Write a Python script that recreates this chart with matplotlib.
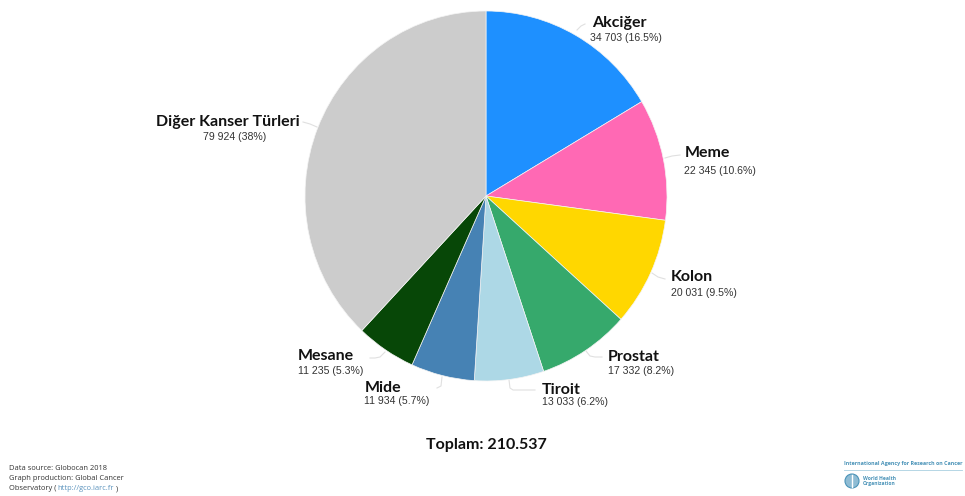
import matplotlib
matplotlib.use("Agg")
import matplotlib.pyplot as plt
from matplotlib.patches import Circle

W = 965
H = 496

kanser = ["Akciğer", "Meme", "Kolon", "Prostat", "Tiroit", "Mide", "Mesane", "Diğer Kanser Türleri"]
vaka = [34703, 22345, 20031, 17332, 13033, 11934, 11235, 79924]
vaka_txt = ["34 703 (16.5%)", "22 345 (10.6%)", "20 031 (9.5%)", "17 332 (8.2%)",
            "13 033 (6.2%)", "11 934 (5.7%)", "11 235 (5.3%)", "79 924 (38%)"]
renkler = ["#1e90ff", "#ff69b4", "#ffd700", "#36a96c", "#add8e6", "#4682b4", "#074707", "#cccccc"]

# etiket konumlari (piksel)
isim_xy = [(592, 23), (685, 153), (671, 277), (608, 357), (542, 390), (365, 388), (298, 356), (300, 122)]
deger_xy = [(590, 38), (684, 171), (671, 293), (608, 371), (542, 402), (364, 401), (298, 371), (266, 137)]
hiza = ["left", "left", "left", "left", "left", "left", "left", "right"]

cizgiler = [
    ([577, 581, 585], [30, 26, 24]),
    ([665, 672, 680], [158, 156, 155]),
    ([652, 658, 665], [273, 277, 279]),
    ([586, 590, 595, 602], [351, 356, 357, 357]),
    ([509, 510, 513, 535], [380, 388, 390, 390]),
    ([442, 441, 437], [377, 386, 388]),
    ([385, 380, 375, 370], [352, 357, 358, 358]),
    ([317, 310, 303], [127, 124, 122]),
]

fig = plt.figure(figsize=(W / 100, H / 100), dpi=100)
ax = fig.add_axes([0, 0, 1, 1])
ax.set_xlim(0, W)
ax.set_ylim(H, 0)
ax.axis("off")

# pasta hafif dikey uzamis: 362 x 370 piksel
ax_pie = fig.add_axes([305 / W, (H - 381) / H, 362 / W, 370 / H])
ax_pie.pie(vaka, colors=renkler, startangle=90, counterclock=False, radius=1,
           wedgeprops={"edgecolor": "#f4f4f4", "linewidth": 0.5})
ax_pie.set_aspect("auto")
ax_pie.set_xlim(-1, 1)
ax_pie.set_ylim(-1, 1)

for xs, ys in cizgiler:
    ax.plot(xs, ys, color="#e0e0e0", lw=0.8)

for i in range(len(kanser)):
    ax.text(isim_xy[i][0], isim_xy[i][1], kanser[i], family="Lato", fontweight="bold",
            fontsize=11.5, color="#111111", ha=hiza[i], va="center")
    ax.text(deger_xy[i][0], deger_xy[i][1], vaka_txt[i], family="Liberation Sans",
            fontsize=7.6, color="#333333", ha=hiza[i], va="center")

ax.text(486, 445, "Toplam: 210.537", family="Lato", fontweight="bold", fontsize=11.5,
        color="#111111", ha="center", va="center")

# alt bilgi
alt_renk = "#333333"
ax.text(9, 468, "Data source: Globocan 2018", family="Open Sans", fontsize=5.4, color=alt_renk, va="center")
ax.text(9, 478.5, "Graph production: Global Cancer", family="Open Sans", fontsize=5.4, color=alt_renk, va="center")
ax.text(9, 489, "Observatory (", family="Open Sans", fontsize=5.4, color=alt_renk, va="center")
ax.text(57.5, 489, "http://gco.iarc.fr", family="Open Sans", fontsize=5.4, color="#5b93bd", va="center")
ax.text(116, 489, ")", family="Open Sans", fontsize=5.4, color=alt_renk, va="center")

# IARC / WHO logosu
logo = "#4a93b8"
ax.text(844, 464, "International Agency for Research on Cancer", family="Open Sans", fontweight="bold",
        fontsize=3.9, color=logo, va="center")
ax.plot([844, 962], [470, 470], color="#a9d0e0", lw=0.6)
ax.add_patch(Circle((852, 481), 7, facecolor="#8fbcd4", edgecolor=logo, lw=0.8))
ax.plot([852, 852], [475, 487], color="white", lw=1.0)
ax.text(863, 478, "World Health", family="Open Sans", fontweight="bold", fontsize=3.6, color=logo, va="center")
ax.text(863, 484, "Organization", family="Open Sans", fontweight="bold", fontsize=3.6, color=logo, va="center")

fig.savefig("out.png", dpi=100, facecolor="white")
